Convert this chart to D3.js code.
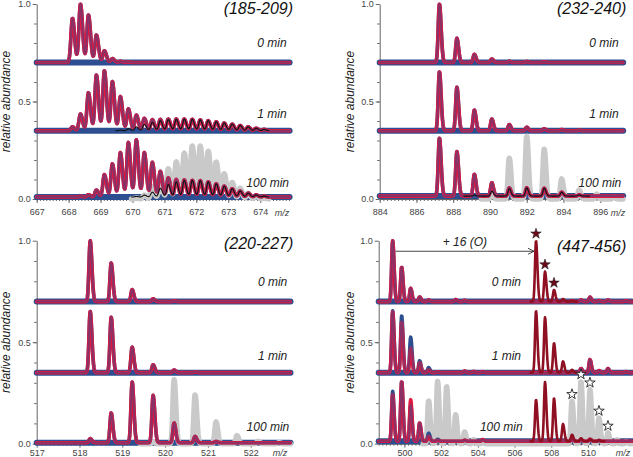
<!DOCTYPE html>
<html>
<head>
<meta charset="utf-8">
<script src="https://cdn.jsdelivr.net/npm/d3@7"></script>
<style>
  body { margin: 0; background: #fff; }
  svg { display: block; font-family: 'Liberation Sans', Arial, sans-serif; }
  .axis path, .axis line { stroke: #666; }
  .axis text { fill: #444; font-size: 9px; }
  .lab { font-style: italic; fill: #222; }
</style>
</head>
<body>
<div id="container"></div>
<script>
// time rows and label heights (relative abundance units)
const timeLabels = ['0 min', '1 min', '100 min'];
const timeLabelV = [0.8, 0.435, 0.085];

// panel 1 (185-209)
const p1Mz = [668.12, 668.37, 668.62, 668.87, 669.12, 669.37, 669.62, 669.87, 670.12, 670.37, 670.62, 670.87, 671.12,
  671.37, 671.62, 671.87, 672.12, 672.37, 672.62, 672.87, 673.12, 673.37, 673.62, 673.87, 674.12];
const p1Bases = [0.7, 0.35, 0.01];
const p1Fit0 = [0.227, 0.3, 0.244, 0.141, 0.06, 0.02, 0.006, 0.002, 0, 0, 0, 0, 0, 0, 0, 0, 0, 0, 0, 0, 0, 0, 0, 0, 0];
const p1Fit1 = [0.02, 0.086, 0.195, 0.286, 0.308, 0.252, 0.175, 0.112, 0.08, 0.064, 0.057, 0.058, 0.06, 0.06, 0.06,
  0.059, 0.056, 0.052, 0.046, 0.04, 0.034, 0.027, 0.02, 0.013, 0.007];
const p1Comp1 = [0, 0, 0, 0, 0, 0, 0.003, 0.01, 0.02, 0.032, 0.043, 0.052, 0.057, 0.059, 0.06, 0.059, 0.056, 0.052,
  0.046, 0.04, 0.034, 0.027, 0.02, 0.013, 0.007];
const p1Fit100 = [0, 0.004, 0.012, 0.036, 0.115, 0.17, 0.228, 0.28, 0.293, 0.228, 0.178, 0.132, 0.098, 0.09, 0.088,
  0.086, 0.084, 0.078, 0.068, 0.056, 0.043, 0.031, 0.02, 0.011, 0.005];
const p1Comp100 = [0, 0, 0, 0, 0, 0, 0, 0, 0.003, 0.01, 0.025, 0.045, 0.065, 0.078, 0.085, 0.086, 0.084, 0.078, 0.068,
  0.056, 0.043, 0.031, 0.02, 0.011, 0.005];
const p1Ref100 = [0, 0, 0, 0, 0, 0, 0, 0, 0.005, 0.02, 0.065, 0.11, 0.155, 0.19, 0.235, 0.272, 0.272, 0.245, 0.19,
  0.13, 0.085, 0.055, 0.03, 0.015, 0.005];
const p1Ticks = [667, 668, 669, 670, 671, 672, 673, 674];

// panel 2 (232-240)
const p2Mz = [887.25, 888.2, 889.15, 890.1, 891.05, 892.0, 892.95, 893.9, 894.85, 895.8, 896.75];
const p2Bases = [0.7, 0.35, 0.015];
const p2Fit0 = [0.3, 0.124, 0.042, 0.018, 0.006, 0.005, 0.004, 0, 0, 0, 0];
const p2Fit1 = [0.303, 0.223, 0.106, 0.06, 0.032, 0.018, 0.01, 0.006, 0.003, 0, 0];
const p2Fit100 = [0.298, 0.228, 0.112, 0.068, 0.042, 0.042, 0.04, 0.02, 0.006, 0, 0];
const p2Comp100 = [0, 0, 0.005, 0.025, 0.038, 0.042, 0.04, 0.02, 0.006, 0, 0];
const p2Ref100 = [0, 0, 0, 0.03, 0.209, 0.323, 0.255, 0.103, 0.046, 0.025, 0.012];
const p2Ticks = [884, 886, 888, 890, 892, 894, 896];

// panel 3 (220-227)
const p3Mz = [518.25, 518.74, 519.23, 519.72, 520.21, 520.7, 521.19, 521.68, 522.17, 522.66];
const p3Bases = [0.7, 0.35, 0.005];
const p3Fit0 = [0.3, 0.19, 0.059, 0.014, 0.004, 0, 0, 0, 0, 0];
const p3Fit1 = [0.302, 0.273, 0.126, 0.039, 0.013, 0.003, 0, 0, 0, 0];
const p3Fit100 = [0.02, 0.146, 0.3, 0.233, 0.097, 0.031, 0.006, 0, 0, 0];
const p3Ref100 = [0, 0, 0, 0.01, 0.315, 0.241, 0.107, 0.04, 0.012, 0.005];
const p3Ticks = [517, 518, 519, 520, 521, 522];

// panel 4 (447-456), native group then +16 group
const p4Mz = [499.36, 499.85, 500.34, 500.83, 501.32, 501.81, 502.3, 502.79, 503.28, 503.77, 504.26,
  507.17, 507.66, 508.15, 508.64, 509.13, 509.62, 510.11, 510.6, 511.09, 511.58, 512.07];
const p4Bases = [0.7, 0.35, 0.012];
const p4Data0 = [0.3, 0.17, 0.065, 0.023, 0.008, 0, 0, 0.01, 0.006, 0, 0, 0, 0, 0, 0, 0.004, 0.008, 0.022, 0.005, 0.008, 0, 0.004];
const p4Ox0 = [0, 0, 0, 0, 0, 0, 0, 0, 0, 0, 0, 0.3, 0.148, 0.058, 0.013, 0.004, 0, 0, 0, 0, 0, 0];
const p4Data1 = [0.305, 0.282, 0.175, 0.059, 0.025, 0.004, 0, 0, 0.008, 0.006, 0.005, 0, 0, 0, 0, 0.006, 0.02, 0.064, 0.01, 0.02, 0, 0.005];
const p4Fit1 = [0.3, 0.25, 0.12, 0.05, 0.015, 0.004, 0, 0, 0.008, 0.006, 0.005, 0, 0, 0, 0, 0.006, 0.02, 0.064, 0.01, 0.02, 0, 0.005];
const p4Ox1 = [0, 0, 0, 0, 0, 0, 0, 0, 0, 0, 0, 0.305, 0.273, 0.146, 0.056, 0.014, 0, 0, 0, 0, 0, 0];
const p4Data100 = [0.246, 0.295, 0.18, 0.09, 0.04, 0.01, 0, 0, 0.005, 0, 0.008, 0, 0, 0, 0, 0.01, 0.006, 0.01, 0.004, 0, 0, 0];
const p4Fit100 = [0.23, 0.295, 0.205, 0.09, 0.025, 0.005, 0, 0, 0.005, 0, 0.008, 0, 0, 0, 0, 0.01, 0.006, 0.01, 0.004, 0, 0, 0];
const p4Ox100 = [0, 0, 0, 0, 0, 0, 0, 0, 0, 0, 0, 0.205, 0.292, 0.213, 0.085, 0.032, 0.015, 0.01, 0.005, 0, 0, 0];
const p4Ref100 = [0, 0, 0, 0, 0.212, 0.307, 0.283, 0.143, 0.058, 0.02, 0.008, 0, 0, 0, 0, 0.209, 0.307, 0.266, 0.127, 0.053, 0.02, 0.01];
const p4FilledStars = [11, 12, 13];
const p4OpenStars = [15, 16, 17, 18, 19];
const p4Ticks = [500, 502, 504, 506, 508, 510];

const blue = '#2d4f91';
const styles = {
  ref: { stroke: '#c9c9c9', width: 5.5, opacity: 1 },
  data: { stroke: blue, width: 3.6, opacity: 1 },
  fit: { stroke: '#e3173e', width: 3.6, opacity: 1 },
  over: { stroke: blue, width: 2, opacity: 0.5 },
  comp: { stroke: '#111', width: 1.1, opacity: 1 },
  ox: { stroke: '#8e1022', width: 2.6, opacity: 1 }
};
const order = ['ref', 'data', 'fit', 'over', 'comp', 'ox'];

function rows(mz, bases, list) {
  // list: [rowIndex, kind, heights]
  const out = [];
  list.forEach(([r, kind, h]) => {
    const base = kind === 'ref' ? 0 : bases[r];
    out.push({ mz, h, kind, base });
    if (kind === 'data') out.push({ mz, h, kind: 'over', base });
  });
  return out;
}

const panels = [
  {
    title: '(185-209)', domain: [667, 674.92], left: 36.7, right: 289.6, top: 4, bottom: 199, bases: p1Bases,
    ticks: p1Ticks, minor: 0.1, pad: 6, sigmaPx: 1.5, mzLabelX: 282, labelRight: [286.7, 286.7, 289], titlePos: [293, 14],
    yLabelX: 10, traces: rows(p1Mz, p1Bases, [
      [0, 'data', p1Fit0], [0, 'fit', p1Fit0], [1, 'data', p1Fit1], [1, 'fit', p1Fit1], [1, 'comp', p1Comp1],
      [2, 'ref', p1Ref100], [2, 'data', p1Fit100], [2, 'fit', p1Fit100], [2, 'comp', p1Comp100]
    ])
  },
  {
    title: '(232-240)', domain: [884, 897.25], left: 379.7, right: 623.2, top: 4, bottom: 199, bases: p2Bases,
    ticks: p2Ticks, minor: 0.2, pad: 6, sigmaPx: 1.2, mzLabelX: 618, labelRight: [618.7, 618.7, 621.3], titlePos: [626.3, 14],
    yLabelX: 354, traces: rows(p2Mz, p2Bases, [
      [0, 'data', p2Fit0], [0, 'fit', p2Fit0], [1, 'data', p2Fit1], [1, 'fit', p2Fit1],
      [2, 'ref', p2Ref100], [2, 'data', p2Fit100], [2, 'fit', p2Fit100], [2, 'comp', p2Comp100]
    ])
  },
  {
    title: '(220-227)', domain: [517, 522.93], left: 36.7, right: 290.5, top: 240.7, bottom: 443.7, bases: p3Bases,
    ticks: p3Ticks, minor: 0.1, pad: 2, sigmaPx: 1.2, mzLabelX: 280, labelRight: [287.3, 287.3, 289.3], titlePos: [293.3, 249],
    yLabelX: 10, traces: rows(p3Mz, p3Bases, [
      [0, 'data', p3Fit0], [0, 'fit', p3Fit0], [1, 'data', p3Fit1], [1, 'fit', p3Fit1],
      [2, 'ref', p3Ref100], [2, 'data', p3Fit100], [2, 'fit', p3Fit100]
    ])
  },
  {
    title: '(447-456)', domain: [498.6, 512.4], left: 378.7, right: 632, top: 240.7, bottom: 443.7, bases: p4Bases,
    ticks: p4Ticks, minor: 0.2, pad: 2, sigmaPx: 1.0, mzLabelX: 623, labelMid: [506.3, 506.3, 501.3], titlePos: [626.3, 252],
    yLabelX: 354, traces: rows(p4Mz, p4Bases, [
      [0, 'data', p4Data0], [0, 'fit', p4Data0], [0, 'ox', p4Ox0],
      [1, 'data', p4Data1], [1, 'fit', p4Fit1], [1, 'ox', p4Ox1],
      [2, 'ref', p4Ref100], [2, 'data', p4Data100], [2, 'fit', p4Fit100], [2, 'ox', p4Ox100]
    ])
  }
];

function profile(t, x0, x1, sigma, step) {
  const pts = [];
  for (let x = x0; x <= x1 + 1e-9; x += step) {
    let v = t.base;
    t.h.forEach((h, i) => {
      if (!h) return;
      const s = x > t.mz[i] ? sigma * 1.4 : sigma;
      const d = (x - t.mz[i]) / s;
      if (Math.abs(d) < 8) v += h * Math.exp(-0.5 * d * d);
    });
    pts.push([x, v]);
  }
  return pts;
}

document.addEventListener('DOMContentLoaded', () => {
  const svg = d3.select('#container').append('svg').attr('width', 633).attr('height', 457);

  panels.forEach((p, pi) => {
    const x = d3.scaleLinear().domain(p.domain).range([p.left, p.right]);
    const y = d3.scaleLinear().domain([0, 1]).range([p.bottom, p.top]);
    const pxPerUnit = (p.right - p.left) / (p.domain[1] - p.domain[0]);
    const sigma = p.sigmaPx / pxPerUnit;
    const step = 0.4 / pxPerUnit;
    const line = d3.line().x(d => x(d[0])).y(d => y(d[1]));
    const g = svg.append('g');

    // axes
    const xAxis = g.append('g').attr('class', 'axis').attr('transform', `translate(0,${p.bottom})`)
      .call(d3.axisBottom(x).tickValues(p.ticks).tickSize(4).tickSizeOuter(0).tickPadding(p.pad).tickFormat(d3.format('d')));
    xAxis.attr('font-size', null).attr('font-family', null);
    g.append('g').attr('class', 'axis').attr('transform', `translate(0,${p.bottom})`)
      .call(d3.axisBottom(x).tickValues(d3.range(Math.ceil(p.domain[0] / p.minor) * p.minor, p.domain[1], p.minor)).tickSize(2).tickFormat(''))
      .select('.domain').remove();
    const yAxis = g.append('g').attr('class', 'axis').attr('transform', `translate(${p.left},0)`)
      .call(d3.axisLeft(y).tickValues([0, 0.5, 1]).tickSize(4).tickSizeOuter(0).tickPadding(2).tickFormat(d3.format('.1f')));
    yAxis.attr('font-size', null).attr('font-family', null);
    g.append('g').attr('class', 'axis').attr('transform', `translate(${p.left},0)`)
      .call(d3.axisLeft(y).tickValues(d3.range(0.1, 1, 0.1)).tickSize(2.5).tickFormat(''))
      .select('.domain').remove();

    g.append('text').attr('class', 'lab').attr('x', p.mzLabelX).attr('y', p.bottom + p.pad + 10.5)
      .attr('text-anchor', 'middle').style('font-size', '9px').style('fill', '#444').text('m/z');

    g.append('text').attr('class', 'lab')
      .attr('transform', `translate(${p.yLabelX},${(p.top + p.bottom) / 2}) rotate(-90)`)
      .attr('text-anchor', 'middle').style('font-size', '12px').text('relative abundance');

    // blue baseline band of each row
    g.selectAll('.band').data(p.bases).enter().append('line')
      .attr('x1', x(p.domain[0])).attr('x2', x(p.domain[1]))
      .attr('y1', d => y(d)).attr('y2', d => y(d))
      .attr('stroke', blue).attr('stroke-width', 6).attr('stroke-linecap', 'round');

    // spectra
    const traces = p.traces.slice().sort((a, b) => order.indexOf(a.kind) - order.indexOf(b.kind));
    traces.forEach(t => {
      let x0 = p.domain[0];
      let x1 = p.domain[1];
      if (t.kind === 'ref' || t.kind === 'comp' || t.kind === 'ox') {
        const nz = t.h.map((h, i) => (h ? i : -1)).filter(i => i >= 0);
        const sp = t.mz[1] - t.mz[0];
        x0 = Math.max(x0, t.mz[nz[0]] - sp * 0.6);
        x1 = Math.min(x1, t.mz[nz[nz.length - 1]] + sp * 0.6);
      }
      const st = styles[t.kind];
      g.append('path')
        .attr('d', line(profile(t, x0, x1, sigma, step)))
        .attr('fill', 'none')
        .attr('stroke', st.stroke)
        .attr('stroke-width', st.width)
        .attr('stroke-opacity', st.opacity)
        .attr('stroke-linejoin', 'round')
        .attr('stroke-linecap', 'round');
    });

    // labels
    g.append('text').attr('class', 'lab').attr('x', p.titlePos[0]).attr('y', p.titlePos[1])
      .attr('text-anchor', 'end').style('font-size', '16px').style('fill', '#111').text(p.title);
    timeLabels.forEach((lbl, r) => {
      const t = g.append('text').attr('class', 'lab').attr('y', y(timeLabelV[r]) + 4.3)
        .style('font-size', '12px').text(lbl);
      if (p.labelMid) t.attr('x', p.labelMid[r]).attr('text-anchor', 'middle');
      else t.attr('x', p.labelRight[r]).attr('text-anchor', 'end');
    });

    if (pi === 3) {
      const star = d3.symbol().type(d3.symbolStar).size(34);
      p4FilledStars.forEach(i => {
        g.append('path').attr('d', star)
          .attr('transform', `translate(${x(p4Mz[i])},${y(p4Bases[0] + p4Ox0[i]) - 7})`)
          .attr('fill', '#6e0a18').attr('stroke', '#222').attr('stroke-width', 0.6);
      });
      p4OpenStars.forEach(i => {
        g.append('path').attr('d', star)
          .attr('transform', `translate(${x(p4Mz[i])},${y(p4Ref100[i]) - 7})`)
          .attr('fill', '#fff').attr('stroke', '#222').attr('stroke-width', 0.9);
      });
      const ay = y(0.948);
      const ax0 = x(p4Mz[0]) + 3;
      const ax1 = x(p4Mz[11]) - 2;
      g.append('line').attr('x1', ax0).attr('x2', ax1).attr('y1', ay).attr('y2', ay)
        .attr('stroke', '#333').attr('stroke-width', 0.9);
      g.append('path').attr('d', `M${ax1 - 6},${ay - 3}L${ax1},${ay}L${ax1 - 6},${ay + 3}`)
        .attr('fill', 'none').attr('stroke', '#333').attr('stroke-width', 0.9);
      g.append('text').attr('class', 'lab').attr('x', (ax0 + ax1) / 2).attr('y', ay - 5.5)
        .attr('text-anchor', 'middle').style('font-size', '12px').text('+ 16 (O)');
    }
  });
});
</script>
</body>
</html>
